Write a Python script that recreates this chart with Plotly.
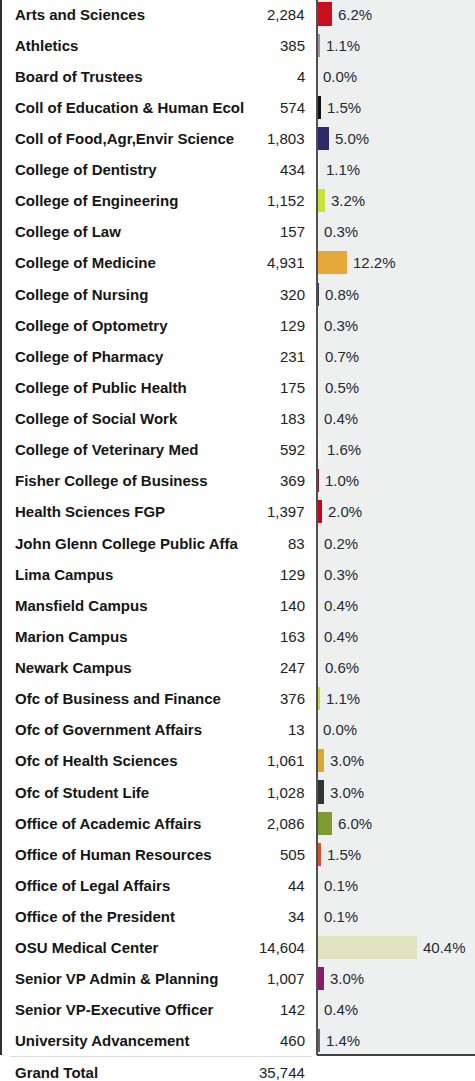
import plotly.graph_objects as go

names = [
    "Arts and Sciences", "Athletics", "Board of Trustees", "Coll of Education & Human Ecol",
    "Coll of Food,Agr,Envir Science", "College of Dentistry", "College of Engineering",
    "College of Law", "College of Medicine", "College of Nursing", "College of Optometry",
    "College of Pharmacy", "College of Public Health", "College of Social Work",
    "College of Veterinary Med", "Fisher College of Business", "Health Sciences FGP",
    "John Glenn College Public Affa", "Lima Campus", "Mansfield Campus", "Marion Campus",
    "Newark Campus", "Ofc of Business and Finance", "Ofc of Government Affairs",
    "Ofc of Health Sciences", "Ofc of Student Life", "Office of Academic Affairs",
    "Office of Human Resources", "Office of Legal Affairs", "Office of the President",
    "OSU Medical Center", "Senior VP Admin & Planning", "Senior VP-Executive Officer",
    "University Advancement",
]
counts = [
    2284, 385, 4, 574, 1803, 434, 1152, 157, 4931, 320, 129, 231, 175, 183, 592, 369, 1397,
    83, 129, 140, 163, 247, 376, 13, 1061, 1028, 2086, 505, 44, 34, 14604, 1007, 142, 460,
]
pct = [
    6.2, 1.1, 0.0, 1.5, 5.0, 1.1, 3.2, 0.3, 12.2, 0.8, 0.3, 0.7, 0.5, 0.4, 1.6, 1.0, 2.0,
    0.2, 0.3, 0.4, 0.4, 0.6, 1.1, 0.0, 3.0, 3.0, 6.0, 1.5, 0.1, 0.1, 40.4, 3.0, 0.4, 1.4,
]
total_label = "Grand Total"
total_value = 35744

LIGHT = "#f6f7f6"
bar_colors = [
    "#c8101e", "#9a90a0", LIGHT, "#111111", "#2e2a6a", LIGHT, "#c9e03c", LIGHT, "#e6a83a",
    "#3a3a4a", LIGHT, LIGHT, LIGHT, LIGHT, LIGHT, "#7a1a34", "#c40818", LIGHT, LIGHT, LIGHT,
    LIGHT, LIGHT, "#c8d840", LIGHT, "#d8a832", "#333333", "#7f9a30", "#d4502a", LIGHT, LIGHT,
    "#dfe3c2", "#8a1a6a", LIGHT, "#666666",
]

n = len(names)
idx = list(range(n))

W, H = 475, 1081
FONT = "Liberation Sans, Arial, sans-serif"
x0 = 317 / W
step = 31.12
ytop = -14 / step
ybot = (H - 14) / step
box_bottom = (1055 - 14) / step

fig = go.Figure(
    go.Bar(
        y=idx,
        x=pct,
        orientation="h",
        width=0.74,
        marker=dict(color=bar_colors, line=dict(width=0)),
        text=[f"\u2009{p:.1f}%" for p in pct],
        textposition="outside",
        constraintext="none",
        cliponaxis=False,
        textfont=dict(family=FONT, size=15, color="#222a38"),
        hoverinfo="skip",
    )
)

annotations = []
for i, (nm, c) in enumerate(zip(names, counts)):
    annotations.append(dict(
        x=13 / W, y=i, xref="paper", yref="y", text=f"<b>{nm}</b>", showarrow=False,
        xanchor="left", yanchor="middle",
        font=dict(family=FONT, size=15, color="#151515"),
    ))
    annotations.append(dict(
        x=307 / W, y=i, xref="paper", yref="y", text=f"{c:,}", showarrow=False,
        xanchor="right", yanchor="middle",
        font=dict(family=FONT, size=15, color="#222222"),
    ))
annotations.append(dict(
    x=13 / W, y=n, xref="paper", yref="y", text=f"<b>{total_label}</b>", showarrow=False,
    xanchor="left", yanchor="middle",
    font=dict(family=FONT, size=15, color="#151515"),
))
annotations.append(dict(
    x=307 / W, y=n, xref="paper", yref="y", text=f"{total_value:,}", showarrow=False,
    xanchor="right", yanchor="middle",
    font=dict(family=FONT, size=15, color="#222222"),
))

shapes = [
    dict(type="rect", xref="paper", yref="y", x0=x0, x1=1.0, y0=ytop, y1=box_bottom,
         fillcolor="#eef0ef", line=dict(width=0), layer="below"),
    dict(type="line", xref="paper", yref="y", x0=x0, x1=x0, y0=ytop, y1=box_bottom,
         line=dict(color="#505050", width=2)),
    dict(type="line", xref="paper", yref="y", x0=x0, x1=1.0, y0=box_bottom, y1=box_bottom,
         line=dict(color="#404040", width=2)),
    dict(type="line", xref="paper", yref="y", x0=1 / W, x1=1 / W, y0=ytop, y1=box_bottom,
         line=dict(color="#303030", width=2)),
    dict(type="line", xref="paper", yref="y", x0=10 / W, x1=312 / W, y0=box_bottom + 0.05,
         y1=box_bottom + 0.05, line=dict(color="#dcdcdc", width=1)),
]

fig.update_layout(
    width=W, height=H,
    margin=dict(l=0, r=0, t=0, b=0),
    paper_bgcolor="white", plot_bgcolor="rgba(0,0,0,0)",
    showlegend=False,
    bargap=0,
    xaxis=dict(domain=[x0, 1.0], range=[0, 63.7], showgrid=False, zeroline=False,
               showticklabels=False, ticks="", showline=False, fixedrange=True),
    yaxis=dict(range=[ybot, ytop], showgrid=False, zeroline=False, showticklabels=False,
               ticks="", showline=False, fixedrange=True),
    annotations=annotations,
    shapes=shapes,
)

fig.write_html(
    "out.html",
    config={"displayModeBar": False},
    post_script="document.body.style.margin='0';document.body.style.overflow='hidden';",
)
